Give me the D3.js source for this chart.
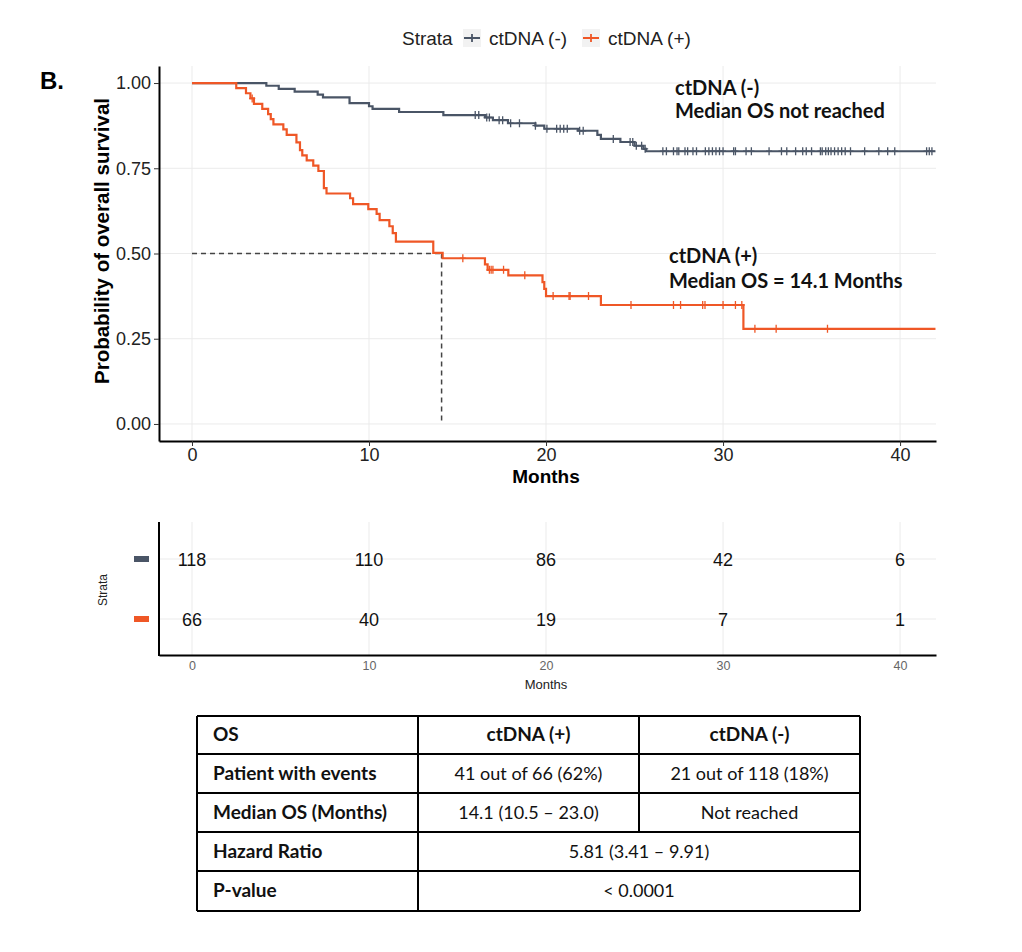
<!DOCTYPE html>
<html><head><meta charset="utf-8">
<script src="https://cdn.jsdelivr.net/npm/d3@7/dist/d3.min.js"></script>
<style>body{margin:0;background:#fff}</style>
</head><body>
<script>
// ---------- DATA ----------
const strata = ["ctDNA (-)", "ctDNA (+)"];
const colors = ["#4a5566", "#ef5726"];

// ctDNA (-) Kaplan-Meier steps
const negTimes = [0, 4.2, 4.9, 5.8, 7.1, 7.4, 8.9, 10.0, 10.2, 11.7, 14.2, 16.55, 17.0, 17.85, 19.4, 19.9, 21.8, 22.9, 23.1, 24.2, 25.0, 25.5, 25.65];
const negSurv  = [1.0, 0.992, 0.983, 0.975, 0.966, 0.958, 0.941, 0.932, 0.924, 0.915, 0.906, 0.899, 0.891, 0.882, 0.875, 0.866, 0.860, 0.848, 0.836, 0.827, 0.816, 0.807, 0.800];
const negCensor = [16.0, 16.2, 16.65, 16.8, 17.35, 17.55, 18.0, 18.5, 19.4, 20.05, 20.6, 20.8, 21.0, 21.2, 21.9, 22.1, 23.8, 24.75, 24.9, 25.1, 25.4, 25.6,
  26.6, 26.8, 27.2, 27.4, 27.5, 27.85, 28.0, 28.3, 28.5, 29.0, 29.2, 29.4, 29.6, 29.8, 30.0, 30.6, 30.7, 31.3, 31.6, 32.6, 33.3, 33.6, 34.1, 34.5, 34.7, 35.0,
  35.5, 35.6, 35.8, 35.95, 36.1, 36.3, 36.5, 36.7, 36.9, 37.2, 38.0, 38.8, 39.3, 39.7, 41.5, 41.65, 41.8];

// ctDNA (+) Kaplan-Meier steps
const posTimes = [0, 2.5, 3.05, 3.3, 3.5, 3.97, 4.3, 4.45, 4.6, 5.16, 5.35, 5.9, 6.1, 6.23, 6.48, 6.85, 7.14, 7.45, 7.6, 8.93, 9.1, 9.96, 10.43, 10.6, 11.15, 11.34, 11.52, 13.63, 14.16, 16.55, 16.7, 17.87, 19.8, 19.9, 20.0, 23.1, 31.15];
const posSurv  = [1.0, 0.985, 0.970, 0.955, 0.939, 0.924, 0.909, 0.894, 0.879, 0.864, 0.848, 0.826, 0.803, 0.788, 0.773, 0.758, 0.742, 0.692, 0.676, 0.662, 0.645, 0.630, 0.616, 0.598, 0.580, 0.560, 0.535, 0.502, 0.486, 0.468, 0.452, 0.436, 0.416, 0.396, 0.375, 0.349, 0.279];
const posCensor = [3.4, 15.3, 16.8, 16.9, 17.0, 17.6, 18.8, 20.4, 21.3, 21.36, 22.4, 24.8, 27.2, 27.6, 28.85, 28.98, 30.0, 30.7, 31.06, 31.8, 33.0, 35.9];

const medianOS = 14.1;
const xTicks = [0, 10, 20, 30, 40];
const yTicks = [0, 0.25, 0.5, 0.75, 1];
const endTime = 42;

// Risk table
const riskTimes = [0, 10, 20, 30, 40];
const negRisk = [118, 110, 86, 42, 6];
const posRisk = [66, 40, 19, 7, 1];

// Summary table
const tableHeader = ["OS", "ctDNA (+)", "ctDNA (-)"];
const tableRow1 = ["Patient with events", "41 out of 66 (62%)", "21 out of 118 (18%)"];
const tableRow2 = ["Median OS (Months)", "14.1 (10.5 \u2013 23.0)", "Not reached"];
const tableRow3 = ["Hazard Ratio", "5.81 (3.41 \u2013 9.91)"];
const tableRow4 = ["P-value", "< 0.0001"];

// ---------- DRAW ----------
const W = 1022, H = 952;
const svg = d3.select("body").append("svg").attr("width", W).attr("height", H);
svg.append("rect").attr("width", W).attr("height", H).attr("fill", "#fff");
const AR = "Liberation Sans, Arial, sans-serif";
const CAL = "Lato, 'Open Sans', sans-serif";

const x = d3.scaleLinear().domain([-1.864, 42.03]).range([159, 936]);
const y = d3.scaleLinear().domain([-0.05, 1.05]).range([441, 66]);

// grid
const g = svg.append("g");
g.selectAll(".vg").data(xTicks).join("line")
  .attr("x1", d => x(d)).attr("x2", d => x(d)).attr("y1", 66).attr("y2", 441)
  .attr("stroke", "#ebebeb").attr("stroke-width", 1);
g.selectAll(".hg").data(yTicks).join("line")
  .attr("x1", 159).attr("x2", 936).attr("y1", d => y(d)).attr("y2", d => y(d))
  .attr("stroke", "#ebebeb").attr("stroke-width", 1);

// median lines
g.append("line").attr("x1", x(0)).attr("x2", x(medianOS)).attr("y1", y(0.5)).attr("y2", y(0.5))
  .attr("stroke", "#444").attr("stroke-width", 1.5).attr("stroke-dasharray", "5,4");
g.append("line").attr("x1", x(medianOS)).attr("x2", x(medianOS)).attr("y1", y(0.5)).attr("y2", y(0))
  .attr("stroke", "#444").attr("stroke-width", 1.5).attr("stroke-dasharray", "5,4");

// curves
const line = d3.line().x(d => x(d[0])).y(d => y(d[1])).curve(d3.curveStepAfter);
function drawCurve(times, surv, cens, col) {
  const pts = times.map((t, i) => [t, surv[i]]);
  pts.push([endTime, surv[surv.length - 1]]);
  g.append("path").attr("d", line(pts)).attr("fill", "none").attr("stroke", col).attr("stroke-width", 2.2);
  const sAt = t => surv[d3.bisectRight(times, t) - 1];
  g.selectAll(null).data(cens).join("path")
    .attr("d", d => `M${x(d)},${y(sAt(d)) - 4}V${y(sAt(d)) + 4}M${x(d) - 3},${y(sAt(d))}H${x(d) + 3}`)
    .attr("stroke", col).attr("stroke-width", 1.3).attr("fill", "none");
}
drawCurve(negTimes, negSurv, negCensor, colors[0]);
drawCurve(posTimes, posSurv, posCensor, colors[1]);

// axes
const yAxis = svg.append("g").attr("transform", "translate(159,0)")
  .call(d3.axisLeft(y).tickValues(yTicks).tickFormat(d3.format(".2f")).tickSize(5).tickSizeOuter(0).tickPadding(3));
const xAxis = svg.append("g").attr("transform", "translate(0,441)")
  .call(d3.axisBottom(x).tickValues(xTicks).tickSize(5).tickSizeOuter(0).tickPadding(2));
[yAxis, xAxis].forEach(a => {
  a.select(".domain").attr("stroke", "#000").attr("stroke-width", 2);
  a.selectAll(".tick line").attr("stroke", "#333");
  a.selectAll("text").attr("font-family", AR).attr("font-size", 18).attr("fill", "#222");
});

svg.append("text").attr("transform", "translate(109,241) rotate(-90)").attr("text-anchor", "middle")
  .attr("font-family", AR).attr("font-weight", "bold").attr("font-size", 20.5).text("Probability of overall survival");
svg.append("text").attr("x", 546).attr("y", 483).attr("text-anchor", "middle")
  .attr("font-family", AR).attr("font-weight", "bold").attr("font-size", 19).text("Months");

// B label
svg.append("text").attr("x", 40).attr("y", 89).attr("font-family", AR).attr("font-weight", "bold")
  .attr("font-size", 24).text("B.");

// legend
const lg = svg.append("g").attr("font-family", AR).attr("font-size", 19).attr("fill", "#222");
lg.append("text").attr("x", 402).attr("y", 45).text("Strata");
[[472, 489], [591, 608]].forEach((p, i) => {
  lg.append("rect").attr("x", p[0] - 9).attr("y", 29).attr("width", 18).attr("height", 18).attr("fill", "#f2f2f2");
  lg.append("path").attr("d", `M${p[0] - 8},38H${p[0] + 8}M${p[0]},34V42`).attr("stroke", colors[i]).attr("stroke-width", 1.8);
  lg.append("text").attr("x", p[1]).attr("y", 45).text(strata[i]);
});

// annotations
const an = svg.append("g").attr("font-family", CAL).attr("font-weight", "bold").attr("font-size", 20).attr("fill", "#111");
an.append("text").attr("x", 675).attr("y", 95).text("ctDNA (-)");
an.append("text").attr("x", 675).attr("y", 118).text("Median OS not reached");
an.append("text").attr("x", 669).attr("y", 263).text("ctDNA (+)");
an.append("text").attr("x", 669).attr("y", 288).text("Median OS = 14.1 Months");

// ---------- risk table ----------
const rowY = [559, 619];
const rt = svg.append("g");
rt.selectAll(".rv").data(xTicks).join("line")
  .attr("x1", d => x(d)).attr("x2", d => x(d)).attr("y1", 522).attr("y2", 655).attr("stroke", "#ebebeb");
rt.selectAll(".rh").data(rowY).join("line")
  .attr("x1", 159).attr("x2", 936).attr("y1", d => d).attr("y2", d => d).attr("stroke", "#ebebeb");
rt.append("line").attr("x1", 159).attr("x2", 159).attr("y1", 522).attr("y2", 656).attr("stroke", "#000").attr("stroke-width", 2);
const rAxis = rt.append("g").attr("transform", "translate(0,655)")
  .call(d3.axisBottom(x).tickValues(xTicks).tickSize(0).tickSizeOuter(0).tickPadding(6));
rAxis.select(".domain").attr("stroke", "#000").attr("stroke-width", 2);
rAxis.selectAll("text").attr("font-family", AR).attr("font-size", 12.5).attr("fill", "#666");
rt.append("text").attr("x", 546).attr("y", 689).attr("text-anchor", "middle").attr("font-family", AR)
  .attr("font-size", 13).attr("fill", "#222").text("Months");
rt.append("text").attr("transform", "translate(107,590) rotate(-90)").attr("text-anchor", "middle")
  .attr("font-family", AR).attr("font-size", 12).attr("fill", "#222").text("Strata");
[negRisk, posRisk].forEach((arr, i) => {
  rt.append("rect").attr("x", 134).attr("y", rowY[i] - 3).attr("width", 15).attr("height", 6).attr("fill", colors[i]);
  rt.selectAll(null).data(riskTimes).join("text")
    .attr("x", d => x(d)).attr("y", rowY[i] + 6.5).attr("text-anchor", "middle")
    .attr("font-family", AR).attr("font-size", 18).attr("fill", "#111")
    .text((d, j) => arr[j]);
});

// ---------- summary table ----------
const tb = svg.append("g").attr("font-family", CAL).attr("font-size", 18).attr("fill", "#111");
const tx = [197, 418, 639, 860];
const ty = [716, 754, 793, 832, 871, 911];
const rowsData = [tableHeader, tableRow1, tableRow2, tableRow3, tableRow4];
rowsData.forEach((row, r) => {
  const cy = (ty[r] + ty[r + 1]) / 2 + 6;
  tb.append("text").attr("x", 213).attr("y", cy).attr("font-weight", "bold").attr("font-size", 19).text(row[0]);
  if (row.length === 3) {
    tb.append("text").attr("x", (tx[1] + tx[2]) / 2).attr("y", cy).attr("text-anchor", "middle")
      .attr("font-weight", r === 0 ? "bold" : "normal").attr("font-size", r === 0 ? 19 : 18).text(row[1]);
    tb.append("text").attr("x", (tx[2] + tx[3]) / 2).attr("y", cy).attr("text-anchor", "middle")
      .attr("font-weight", r === 0 ? "bold" : "normal").attr("font-size", r === 0 ? 19 : 18).text(row[2]);
  } else {
    tb.append("text").attr("x", (tx[1] + tx[3]) / 2).attr("y", cy).attr("text-anchor", "middle").text(row[1]);
  }
});
const bl = svg.append("g").attr("stroke", "#000").attr("stroke-width", 2);
ty.forEach(v => bl.append("line").attr("x1", tx[0]).attr("x2", tx[3]).attr("y1", v).attr("y2", v));
bl.append("line").attr("x1", tx[0]).attr("x2", tx[0]).attr("y1", ty[0]).attr("y2", ty[5]);
bl.append("line").attr("x1", tx[3]).attr("x2", tx[3]).attr("y1", ty[0]).attr("y2", ty[5]);
bl.append("line").attr("x1", tx[1]).attr("x2", tx[1]).attr("y1", ty[0]).attr("y2", ty[5]);
bl.append("line").attr("x1", tx[2]).attr("x2", tx[2]).attr("y1", ty[0]).attr("y2", ty[3]);
</script>
</body></html>
